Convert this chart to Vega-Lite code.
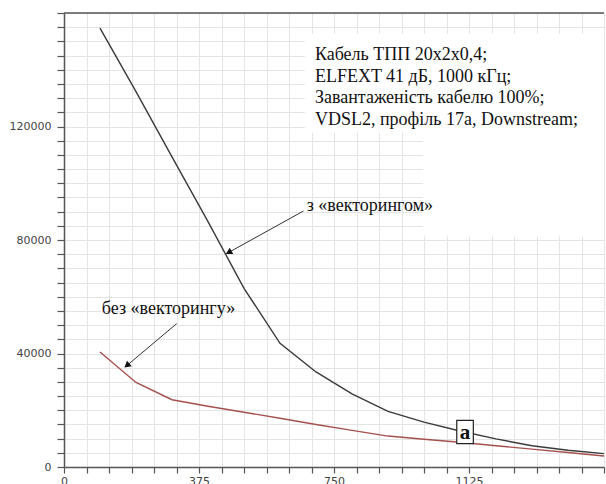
{
  "$schema": "https://vega.github.io/schema/vega-lite/v6.json",
  "width": 540,
  "height": 454,
  "autosize": {"type": "none"},
  "padding": {"left": 64, "top": 13, "right": 2, "bottom": 17},
  "background": "white",
  "config": {"view": {"stroke": null}},
  "datasets": {
    "curves": [
      {"series": "з «векторингом»", "x": 100, "y": 154700},
      {"series": "з «векторингом»", "x": 200, "y": 132300},
      {"series": "з «векторингом»", "x": 300, "y": 109300},
      {"series": "з «векторингом»", "x": 400, "y": 86450},
      {"series": "з «векторингом»", "x": 500, "y": 62970},
      {"series": "з «векторингом»", "x": 600, "y": 43600},
      {"series": "з «векторингом»", "x": 700, "y": 33500},
      {"series": "з «векторингом»", "x": 800, "y": 25800},
      {"series": "з «векторингом»", "x": 900, "y": 19600},
      {"series": "з «векторингом»", "x": 1000, "y": 15800},
      {"series": "з «векторингом»", "x": 1100, "y": 12700},
      {"series": "з «векторингом»", "x": 1200, "y": 9900},
      {"series": "з «векторингом»", "x": 1300, "y": 7500},
      {"series": "з «векторингом»", "x": 1400, "y": 5900},
      {"series": "з «векторингом»", "x": 1500, "y": 4700},
      {"series": "без «векторингу»", "x": 100, "y": 40500},
      {"series": "без «векторингу»", "x": 200, "y": 29800},
      {"series": "без «векторингу»", "x": 300, "y": 23700},
      {"series": "без «векторингу»", "x": 400, "y": 21400},
      {"series": "без «векторингу»", "x": 500, "y": 19300},
      {"series": "без «векторингу»", "x": 600, "y": 17200},
      {"series": "без «векторингу»", "x": 700, "y": 15000},
      {"series": "без «векторингу»", "x": 800, "y": 12900},
      {"series": "без «векторингу»", "x": 900, "y": 10900},
      {"series": "без «векторингу»", "x": 1000, "y": 9800},
      {"series": "без «векторингу»", "x": 1100, "y": 8700},
      {"series": "без «векторингу»", "x": 1200, "y": 7500},
      {"series": "без «векторингу»", "x": 1300, "y": 6300},
      {"series": "без «векторингу»", "x": 1400, "y": 5100},
      {"series": "без «векторингу»", "x": 1500, "y": 3900}
    ],
    "whiteboxes": [
      {"x": 669, "x2": 1500, "y": 117800, "y2": 152800},
      {"x": 997, "x2": 1500, "y": 81200, "y2": 117800}
    ],
    "frame": [{"x": 0, "x2": 1500, "y": 160000}],
    "arrows": [
      {"x": 665, "y": 90200, "x2": 460, "y2": 75800},
      {"x": 313, "y": 50530, "x2": 177, "y2": 36000}
    ],
    "heads": [
      {"x": 460, "y": 75800, "angle": 241},
      {"x": 177, "y": 36000, "angle": 230}
    ],
    "labels": [
      {"x": 674, "y": 90100, "text": "з «векторингом»"},
      {"x": 105, "y": 54060, "text": "без «векторингу»"}
    ],
    "note": [
      {"x": 697, "y": 143300, "text": "Кабель ТПП 20х2х0,4;\nELFEXT 41 дБ, 1000 кГц;\nЗавантаженість кабелю 100%;\nVDSL2, профіль 17а, Downstream;"}
    ],
    "boxa": [
      {"x": 1091, "x2": 1137, "y": 8250, "y2": 16460, "cx": 1114, "cy": 12100, "text": "a"}
    ]
  },
  "encoding": {
    "x": {
      "field": "x", "type": "quantitative",
      "scale": {"domain": [0, 1500], "nice": false, "zero": false},
      "axis": {
        "title": null,
        "values": [0, 62.5, 125, 187.5, 250, 312.5, 375, 437.5, 500, 562.5, 625, 687.5, 750, 812.5, 875, 937.5, 1000, 1062.5, 1125, 1187.5, 1250, 1312.5, 1375, 1437.5, 1500],
        "labelExpr": "(datum.value % 375 === 0 && datum.value < 1500) ? format(datum.value, 'd') : ''",
        "labelFont": "DejaVu Sans", "labelFontSize": 11, "labelColor": "#444",
        "labelPadding": 2, "labelFlush": false, "labelOverlap": false,
        "tickSize": 6, "tickColor": "#555", "tickWidth": 1.2,
        "domainColor": "#555", "domainWidth": 1.5,
        "grid": true, "gridColor": "#e4e4e4", "gridWidth": 1
      }
    },
    "y": {
      "field": "y", "type": "quantitative",
      "scale": {"domain": [0, 160000], "nice": false},
      "axis": {
        "title": null,
        "values": [0, 5000, 10000, 15000, 20000, 25000, 30000, 35000, 40000, 45000, 50000, 55000, 60000, 65000, 70000, 75000, 80000, 85000, 90000, 95000, 100000, 105000, 110000, 115000, 120000, 125000, 130000, 135000, 140000, 145000, 150000, 155000, 160000],
        "labelExpr": "(datum.value % 40000 === 0 && datum.value < 160000) ? format(datum.value, 'd') : ''",
        "labelFont": "DejaVu Sans", "labelFontSize": 11, "labelColor": "#444",
        "labelPadding": 6, "labelFlush": false, "labelOverlap": false,
        "tickSize": 7, "tickColor": "#555", "tickWidth": 1.2,
        "domainColor": "#555", "domainWidth": 1.5,
        "grid": true, "gridColor": "#e4e4e4", "gridWidth": 1
      }
    }
  },
  "layer": [
    {
      "data": {"name": "whiteboxes"},
      "mark": {"type": "rect", "color": "white"},
      "encoding": {"x2": {"field": "x2"}, "y2": {"field": "y2"}}
    },
    {
      "data": {"name": "frame"},
      "mark": {"type": "rule", "color": "#555", "strokeWidth": 1.5},
      "encoding": {"x2": {"field": "x2"}}
    },
    {
      "data": {"name": "curves"},
      "mark": {"type": "line", "strokeWidth": 1.4},
      "encoding": {
        "color": {
          "field": "series", "type": "nominal",
          "scale": {"domain": ["з «векторингом»", "без «векторингу»"], "range": ["#3a3a3a", "#a5514f"]},
          "legend": null
        },
        "order": {"field": "x", "type": "quantitative"}
      }
    },
    {
      "data": {"name": "arrows"},
      "mark": {"type": "rule", "color": "#333", "strokeWidth": 1},
      "encoding": {"x2": {"field": "x2"}, "y2": {"field": "y2"}}
    },
    {
      "data": {"name": "heads"},
      "mark": {"type": "point", "shape": "triangle", "filled": true, "color": "#111", "size": 55, "opacity": 1},
      "encoding": {"angle": {"field": "angle", "type": "quantitative", "scale": null}}
    },
    {
      "data": {"name": "labels"},
      "mark": {"type": "text", "align": "left", "baseline": "alphabetic", "font": "Liberation Serif", "fontSize": 18, "color": "#111"},
      "encoding": {"text": {"field": "text"}}
    },
    {
      "data": {"name": "note"},
      "mark": {"type": "text", "align": "left", "baseline": "alphabetic", "font": "Liberation Serif", "fontSize": 18, "lineHeight": 21.4, "lineBreak": "\n", "color": "#111"},
      "encoding": {"text": {"field": "text"}}
    },
    {
      "data": {"name": "boxa"},
      "mark": {"type": "rect", "fill": "white", "stroke": "#222", "strokeWidth": 1.2},
      "encoding": {"x2": {"field": "x2"}, "y2": {"field": "y2"}}
    },
    {
      "data": {"name": "boxa"},
      "mark": {"type": "text", "align": "center", "baseline": "middle", "font": "Liberation Serif", "fontSize": 21, "fontWeight": "bold", "color": "#111"},
      "encoding": {
        "x": {"field": "cx", "type": "quantitative"},
        "y": {"field": "cy", "type": "quantitative"},
        "text": {"field": "text"}
      }
    }
  ]
}
